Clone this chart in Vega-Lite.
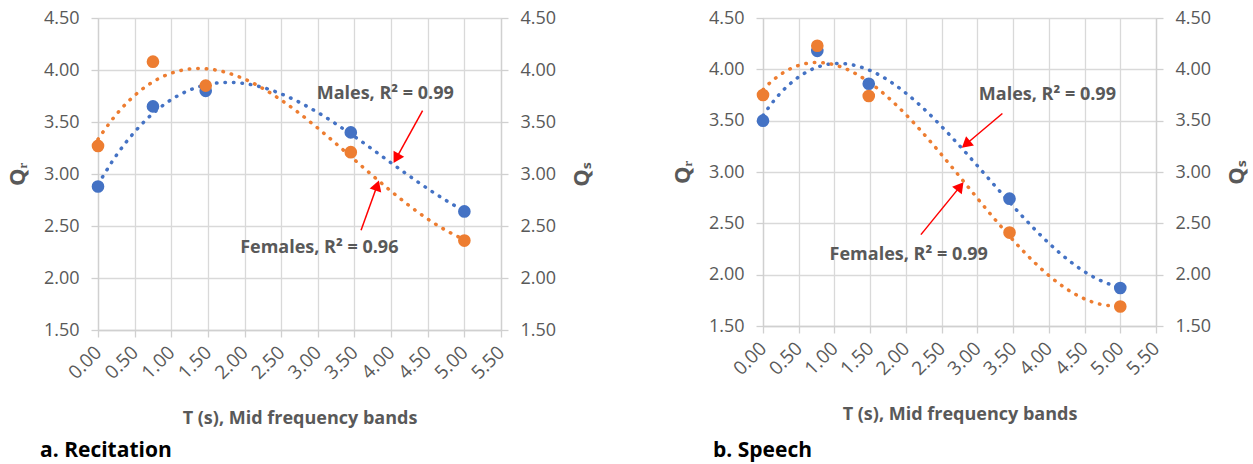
{
  "$schema": "https://vega.github.io/schema/vega-lite/v6.json",
  "padding": {"left": 5, "top": 8, "right": 5, "bottom": 5},
  "background": "white",
  "datasets": {
    "points": [
      {"panel": "a", "sex": "Males", "T": 0.0, "Q": 2.88},
      {"panel": "a", "sex": "Males", "T": 0.75, "Q": 3.65},
      {"panel": "a", "sex": "Males", "T": 1.47, "Q": 3.80},
      {"panel": "a", "sex": "Males", "T": 3.45, "Q": 3.40},
      {"panel": "a", "sex": "Males", "T": 5.0, "Q": 2.64},
      {"panel": "a", "sex": "Females", "T": 0.0, "Q": 3.27},
      {"panel": "a", "sex": "Females", "T": 0.75, "Q": 4.08},
      {"panel": "a", "sex": "Females", "T": 1.47, "Q": 3.85},
      {"panel": "a", "sex": "Females", "T": 3.45, "Q": 3.21},
      {"panel": "a", "sex": "Females", "T": 5.0, "Q": 2.36},
      {"panel": "b", "sex": "Males", "T": 0.0, "Q": 3.50},
      {"panel": "b", "sex": "Males", "T": 0.76, "Q": 4.18},
      {"panel": "b", "sex": "Males", "T": 1.48, "Q": 3.86},
      {"panel": "b", "sex": "Males", "T": 3.45, "Q": 2.74},
      {"panel": "b", "sex": "Males", "T": 5.0, "Q": 1.87},
      {"panel": "b", "sex": "Females", "T": 0.0, "Q": 3.75},
      {"panel": "b", "sex": "Females", "T": 0.76, "Q": 4.23},
      {"panel": "b", "sex": "Females", "T": 1.48, "Q": 3.74},
      {"panel": "b", "sex": "Females", "T": 3.45, "Q": 2.41},
      {"panel": "b", "sex": "Females", "T": 5.0, "Q": 1.69}
    ],
    "notes": [
      {"panel": "a", "label": "Males, R² = 0.99", "T": 3.92, "Q": 3.77},
      {"panel": "a", "label": "Females, R² = 0.96", "T": 3.02, "Q": 2.29},
      {"panel": "b", "label": "Males, R² = 0.99", "T": 3.98, "Q": 3.75},
      {"panel": "b", "label": "Females, R² = 0.99", "T": 2.04, "Q": 2.19}
    ],
    "arrows": [
      {"panel": "a", "sex": "Males", "T": 4.43, "Q": 3.61, "T2": 4.07, "Q2": 3.15},
      {"panel": "a", "sex": "Females", "T": 3.59, "Q": 2.46, "T2": 3.81, "Q2": 2.89},
      {"panel": "b", "sex": "Males", "T": 3.35, "Q": 3.57, "T2": 2.84, "Q2": 3.27},
      {"panel": "b", "sex": "Females", "T": 2.21, "Q": 2.39, "T2": 2.76, "Q2": 2.86}
    ]
  },
  "spacing": 76,
  "hconcat": [
    {
      "width": 403,
      "height": 312,
      "title": {"text": "a. Recitation", "orient": "bottom", "anchor": "start", "frame": "group", "dx": -58, "offset": 12, "font": "Open Sans", "fontSize": 21, "fontWeight": "bold", "color": "#000000"},
      "encoding": {
        "x": {"field": "T", "type": "quantitative", "scale": {"domain": [0, 5.5], "nice": false}, "title": "T (s), Mid frequency bands",
              "axis": {"values": [0, 0.5, 1, 1.5, 2, 2.5, 3, 3.5, 4, 4.5, 5, 5.5], "format": ".2f", "labelAngle": -45, "labelAlign": "right", "labelBaseline": "middle", "labelOverlap": false, "labelFlush": false, "labelSeparation": 0, "labelFontSize": 19, "labelPadding": 12, "titlePadding": 27}}
      },
      "layer": [
        {
          "data": {"name": "points"},
          "transform": [
            {"filter": "datum.panel === 'a'"},
            {"regression": "Q", "on": "T", "groupby": ["sex"], "method": "poly", "order": 3}
          ],
          "mark": {"type": "line", "strokeDash": [0.5, 8], "strokeCap": "round", "strokeWidth": 3.5},
          "encoding": {
            "y": {"field": "Q", "type": "quantitative", "scale": {"domain": [1.5, 4.5], "nice": false}, "title": "Qᵣ",
                  "axis": {"values": [1.5, 2, 2.5, 3, 3.5, 4, 4.5], "format": ".2f", "titleFontSize": 22, "titlePadding": 14}},
            "color": {"field": "sex", "type": "nominal", "scale": {"domain": ["Males", "Females"], "range": ["#4472C4", "#ED7D31"]}, "legend": null}
          }
        },
        {
          "data": {"name": "points"},
          "transform": [{"filter": "datum.panel === 'a'"}],
          "mark": {"type": "circle", "size": 160, "opacity": 1},
          "encoding": {
            "y": {"field": "Q", "type": "quantitative", "title": "Qₛ",
                  "axis": {"orient": "right", "grid": false, "values": [1.5, 2, 2.5, 3, 3.5, 4, 4.5], "format": ".2f", "titleAngle": -90, "titleBaseline": "top", "titleFontSize": 22, "titlePadding": 16}},
            "color": {"field": "sex", "type": "nominal", "legend": null}
          }
        },
        {
          "data": {"name": "arrows"},
          "transform": [{"filter": "datum.panel === 'a'"}],
          "mark": {"type": "rule", "color": "#FF0000", "strokeWidth": 1.5},
          "encoding": {
            "y": {"field": "Q", "type": "quantitative", "axis": null},
            "x2": {"field": "T2"},
            "y2": {"field": "Q2"}
          }
        },
        {
          "data": {"name": "arrows"},
          "transform": [{"filter": "datum.panel === 'a' && datum.sex === 'Males'"}],
          "mark": {"type": "point", "shape": "triangle-up", "filled": true, "color": "#FF0000", "opacity": 1, "size": 150, "angle": 210},
          "encoding": {
            "x": {"field": "T2", "type": "quantitative", "title": "T (s), Mid frequency bands"},
            "y": {"field": "Q2", "type": "quantitative", "axis": null}
          }
        },
        {
          "data": {"name": "arrows"},
          "transform": [{"filter": "datum.panel === 'a' && datum.sex === 'Females'"}],
          "mark": {"type": "point", "shape": "triangle-up", "filled": true, "color": "#FF0000", "opacity": 1, "size": 150, "angle": 19},
          "encoding": {
            "x": {"field": "T2", "type": "quantitative", "title": "T (s), Mid frequency bands"},
            "y": {"field": "Q2", "type": "quantitative", "axis": null}
          }
        },
        {
          "data": {"name": "notes"},
          "transform": [{"filter": "datum.panel === 'a'"}],
          "mark": {"type": "text", "font": "Open Sans", "fontSize": 18, "fontWeight": "bold", "color": "#595959"},
          "encoding": {
            "y": {"field": "Q", "type": "quantitative", "axis": null},
            "text": {"field": "label"}
          }
        }
      ],
      "resolve": {"axis": {"y": "independent"}}
    },
    {
      "width": 393,
      "height": 308,
      "title": {"text": "b. Speech", "orient": "bottom", "anchor": "start", "frame": "group", "dx": -50, "offset": 16, "font": "Open Sans", "fontSize": 21, "fontWeight": "bold", "color": "#000000"},
      "encoding": {
        "x": {"field": "T", "type": "quantitative", "scale": {"domain": [0, 5.5], "nice": false}, "title": "T (s), Mid frequency bands",
              "axis": {"values": [0, 0.5, 1, 1.5, 2, 2.5, 3, 3.5, 4, 4.5, 5, 5.5], "format": ".2f", "labelAngle": -45, "labelAlign": "right", "labelBaseline": "middle", "labelOverlap": false, "labelFlush": false, "labelSeparation": 0, "labelFontSize": 19, "labelPadding": 12, "titlePadding": 27}}
      },
      "layer": [
        {
          "data": {"name": "points"},
          "transform": [
            {"filter": "datum.panel === 'b'"},
            {"regression": "Q", "on": "T", "groupby": ["sex"], "method": "poly", "order": 3}
          ],
          "mark": {"type": "line", "strokeDash": [0.5, 8], "strokeCap": "round", "strokeWidth": 3.5},
          "encoding": {
            "y": {"field": "Q", "type": "quantitative", "scale": {"domain": [1.5, 4.5], "nice": false}, "title": "Qᵣ",
                  "axis": {"values": [1.5, 2, 2.5, 3, 3.5, 4, 4.5], "format": ".2f", "titleFontSize": 22, "titlePadding": 14}},
            "color": {"field": "sex", "type": "nominal", "scale": {"domain": ["Males", "Females"], "range": ["#4472C4", "#ED7D31"]}, "legend": null}
          }
        },
        {
          "data": {"name": "points"},
          "transform": [{"filter": "datum.panel === 'b'"}],
          "mark": {"type": "circle", "size": 160, "opacity": 1},
          "encoding": {
            "y": {"field": "Q", "type": "quantitative", "title": "Qₛ",
                  "axis": {"orient": "right", "grid": false, "values": [1.5, 2, 2.5, 3, 3.5, 4, 4.5], "format": ".2f", "titleAngle": -90, "titleBaseline": "top", "titleFontSize": 22, "titlePadding": 16}},
            "color": {"field": "sex", "type": "nominal", "legend": null}
          }
        },
        {
          "data": {"name": "arrows"},
          "transform": [{"filter": "datum.panel === 'b'"}],
          "mark": {"type": "rule", "color": "#FF0000", "strokeWidth": 1.5},
          "encoding": {
            "y": {"field": "Q", "type": "quantitative", "axis": null},
            "x2": {"field": "T2"},
            "y2": {"field": "Q2"}
          }
        },
        {
          "data": {"name": "arrows"},
          "transform": [{"filter": "datum.panel === 'b' && datum.sex === 'Males'"}],
          "mark": {"type": "point", "shape": "triangle-up", "filled": true, "color": "#FF0000", "opacity": 1, "size": 150, "angle": 230},
          "encoding": {
            "x": {"field": "T2", "type": "quantitative", "title": "T (s), Mid frequency bands"},
            "y": {"field": "Q2", "type": "quantitative", "axis": null}
          }
        },
        {
          "data": {"name": "arrows"},
          "transform": [{"filter": "datum.panel === 'b' && datum.sex === 'Females'"}],
          "mark": {"type": "point", "shape": "triangle-up", "filled": true, "color": "#FF0000", "opacity": 1, "size": 150, "angle": 38},
          "encoding": {
            "x": {"field": "T2", "type": "quantitative", "title": "T (s), Mid frequency bands"},
            "y": {"field": "Q2", "type": "quantitative", "axis": null}
          }
        },
        {
          "data": {"name": "notes"},
          "transform": [{"filter": "datum.panel === 'b'"}],
          "mark": {"type": "text", "font": "Open Sans", "fontSize": 18, "fontWeight": "bold", "color": "#595959"},
          "encoding": {
            "y": {"field": "Q", "type": "quantitative", "axis": null},
            "text": {"field": "label"}
          }
        }
      ],
      "resolve": {"axis": {"y": "independent"}}
    }
  ],
  "config": {
    "font": "Open Sans",
    "view": {"stroke": "#d9d9d9"},
    "axis": {
      "labelFont": "Open Sans",
      "labelFontSize": 18,
      "labelColor": "#595959",
      "titleFont": "Open Sans",
      "titleFontSize": 18,
      "titleFontWeight": "bold",
      "titleColor": "#595959",
      "gridColor": "#d9d9d9",
      "gridWidth": 1.3,
      "domainColor": "#d0d0d0",
      "domainWidth": 1.3,
      "tickColor": "#d0d0d0",
      "tickWidth": 1.3,
      "tickSize": 7,
      "labelPadding": 12
    }
  }
}
